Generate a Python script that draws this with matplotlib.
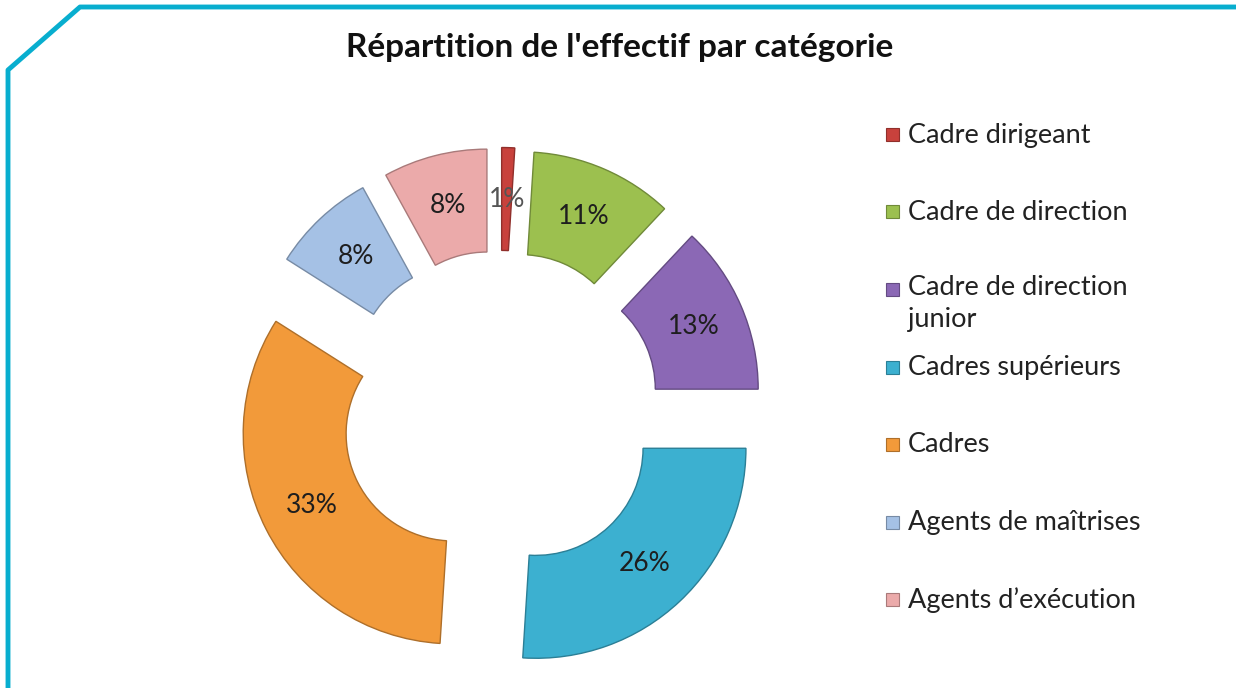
import matplotlib.pyplot as plt
from matplotlib.lines import Line2D
from matplotlib.patches import Rectangle
import matplotlib.colors as mcolors

plt.rcParams['font.family'] = ['Lato', 'DejaVu Sans']

categories = ['Cadre dirigeant', 'Cadre de direction', 'Cadre de direction\njunior',
              'Cadres supérieurs', 'Cadres', 'Agents de maîtrises', "Agents d\u2019exécution"]
shares = [1, 11, 13, 26, 33, 8, 8]
colors = ['#C8413C', '#9CC04F', '#8B68B5', '#3CB0D0', '#F29A3A', '#A5C1E5', '#EBAAAA']
title = "Répartition de l'effectif par catégorie"

W, H = 1236, 688
fig = plt.figure(figsize=(W / 100, H / 100), dpi=100)
fig.patch.set_facecolor('white')

# one data unit = 210 px, ring centre at (500, 410) px from top-left
scale = 210.0
cx, cy = 500, 410
ax = fig.add_axes([0, 0, 1, 1])

def darker(c, f=0.72):
    r, g, b = mcolors.to_rgb(c)
    return (r * f, g * f, b * f)

wedges, texts, autotexts = ax.pie(
    shares, startangle=90, counterclock=False, colors=colors,
    explode=[0.25] * len(shares), radius=1.0,
    wedgeprops=dict(width=0.49, linewidth=1.0),
    autopct='%1.0f%%', pctdistance=0.755,
    textprops=dict(fontsize=19, color='#1E1E1E'))
for w, c in zip(wedges, colors):
    w.set_edgecolor(darker(c))
autotexts[0].set_color('#555555')

ax.set_xlim(-cx / scale, (W - cx) / scale)
ax.set_ylim(-(H - cy) / scale, cy / scale)
ax.set_aspect('equal')
ax.axis('off')

fig.text(620 / W, 1 - 48 / H, title, ha='center', va='center',
         fontsize=24, fontweight='bold', color='#111111')

# legend
y0, step = 135, 77.5
for i, (lab, col) in enumerate(zip(categories, colors)):
    y = y0 + i * step
    fig.patches.append(Rectangle((886 / W, 1 - (y + 6) / H), 13 / W, 13 / H,
                                 transform=fig.transFigure, facecolor=col,
                                 edgecolor=darker(col), linewidth=0.8))
    t = fig.text(908 / W, 1 - y / H, lab, ha='left', va='center',
                 fontsize=19.5, color='#222222', linespacing=1.35)
    if '\n' in lab:
        t.set_va('top')
        t.set_position((908 / W, 1 - (y - 15) / H))

# cyan frame with cut corner
fx = [8 / W, 8 / W, 80 / W, 1.0]
fy = [0.0, 1 - 70 / H, 1 - 7 / H, 1 - 7 / H]
fig.add_artist(Line2D(fx, fy, transform=fig.transFigure, color='#08AECF', linewidth=3.5))

fig.savefig('out.png', dpi=100)
